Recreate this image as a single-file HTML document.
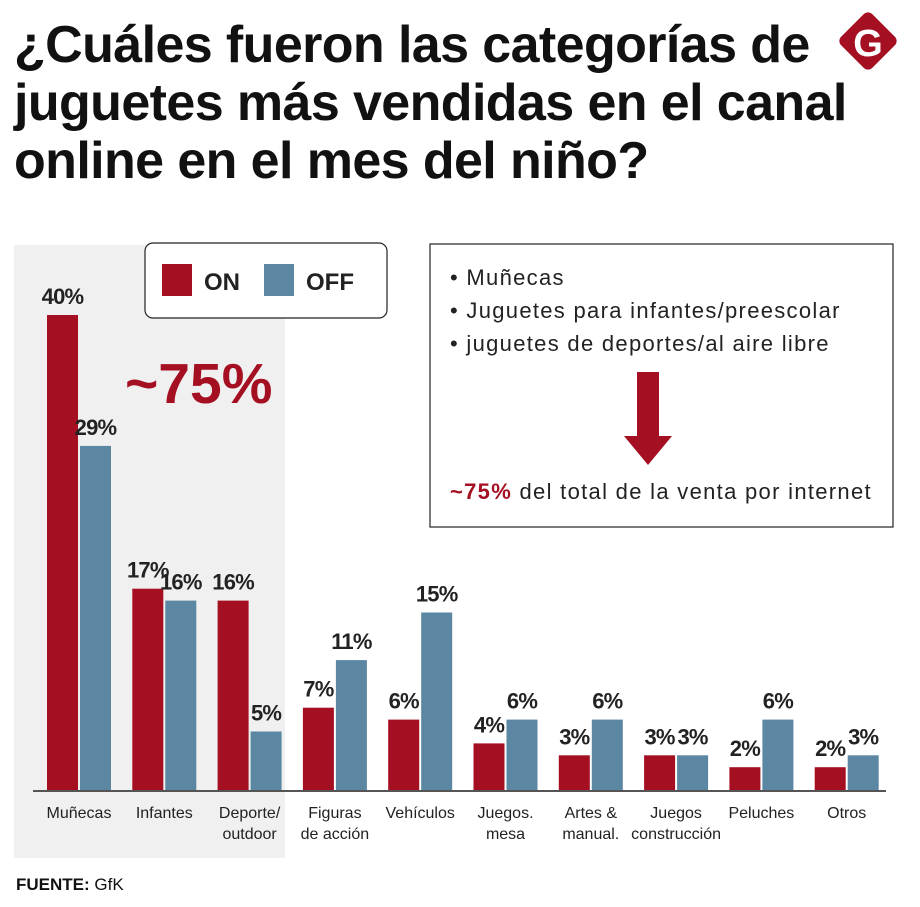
<!DOCTYPE html>
<html><head><meta charset="utf-8"><style>
body{margin:0;background:#fff;font-family:"Liberation Sans",sans-serif;}
#wrap{position:relative;width:920px;height:907px;overflow:hidden;}
h1{position:absolute;left:14px;top:16px;margin:0;font-size:52px;line-height:58px;font-weight:bold;letter-spacing:-0.6px;color:#111;transform:scaleX(1.0);transform-origin:0 0;white-space:nowrap;}
</style></head><body>
<div id="wrap">
<h1>¿Cuáles fueron las categorías de<br>juguetes más vendidas en el canal<br>online en el mes del niño?</h1>
<svg width="920" height="907" style="position:absolute;left:0;top:0" font-family="Liberation Sans, sans-serif">
<g>
<rect x="846" y="19" width="44" height="44" rx="6" fill="#a50f22" transform="rotate(45 868 41)"/>
<text x="868" y="56" text-anchor="middle" font-size="38" font-weight="bold" fill="#fff">G</text>
</g>
<rect x="14" y="245" width="271" height="613" fill="#f1f0f0"/>
<g id="bars"></g>
<line x1="33" y1="791" x2="886" y2="791" stroke="#555" stroke-width="2"/>
<g>
<rect x="145" y="243" width="242" height="75" rx="8" fill="#fff" stroke="#222" stroke-width="1.2"/>
<rect x="162" y="264" width="30" height="32" fill="#a50f22"/>
<text x="204" y="290" font-size="24" font-weight="bold" fill="#222">ON</text>
<rect x="264" y="264" width="30" height="32" fill="#5b87a3"/>
<text x="306" y="290" font-size="24" font-weight="bold" fill="#222">OFF</text>
</g>
<text x="125" y="403" font-size="57" font-weight="bold" fill="#a50f22">~75%</text>
<g font-size="22" fill="#222" letter-spacing="1.3">
<rect x="430" y="244" width="463" height="283" fill="#fff" stroke="#222" stroke-width="1.2"/>
<text x="450" y="285">• Muñecas</text>
<text x="450" y="318">• Juguetes para infantes/preescolar</text>
<text x="450" y="351">• juguetes de deportes/al aire libre</text>
<polygon points="637,372 659,372 659,436 672,436 648,465 624,436 637,436" fill="#a50f22"/>
<text x="450" y="499"><tspan font-weight="bold" fill="#a50f22">~75%</tspan> del total de la venta por internet</text>
</g>
<text x="16" y="890" font-size="17" fill="#111"><tspan font-weight="bold">FUENTE:</tspan> GfK</text>
</svg>
</div>
<script>
const categories=["Muñecas","Infantes","Deporte/|outdoor","Figuras|de acción","Vehículos","Juegos.|mesa","Artes &|manual.","Juegos|construcción","Peluches","Otros"];
const onValues=[40,17,16,7,6,4,3,3,2,2];
const offValues=[29,16,5,11,15,6,6,3,6,3];
const NS="http://www.w3.org/2000/svg";
const g=document.getElementById('bars');
const base=791, pxPer=11.9, x0=47, step=85.3, bw=31;
function y(v){return base-v*pxPer;}
function mk(t,a){const e=document.createElementNS(NS,t);for(const k in a)e.setAttribute(k,a[k]);g.appendChild(e);return e;}
categories.forEach((c,i)=>{
 const xo=x0+i*step, xf=xo+33;
 const r1=mk('rect',{x:xo,y:y(onValues[i]),width:bw,height:onValues[i]*pxPer,fill:'#a50f22'});
 
 
 const r2=mk('rect',{x:xf,y:y(offValues[i]),width:bw,height:offValues[i]*pxPer,fill:'#5b87a3'});
 
 
 const t1=mk('text',{x:xo+bw/2,y:y(onValues[i])-11,'text-anchor':'middle','font-size':22,'font-weight':'bold',fill:'#222','letter-spacing':'-0.8'});
 t1.textContent=onValues[i]+'%';
 
 
 const t2=mk('text',{x:xf+bw/2,y:y(offValues[i])-11,'text-anchor':'middle','font-size':22,'font-weight':'bold',fill:'#222','letter-spacing':'-0.8'});
 t2.textContent=offValues[i]+'%';
 
 
 c.split('|').forEach((ln,j)=>{
  const t=mk('text',{x:xo+32,y:818+j*21,'text-anchor':'middle','font-size':16,fill:'#222'});
  t.textContent=ln;
  
  
 });
});
</script>
</body></html>
